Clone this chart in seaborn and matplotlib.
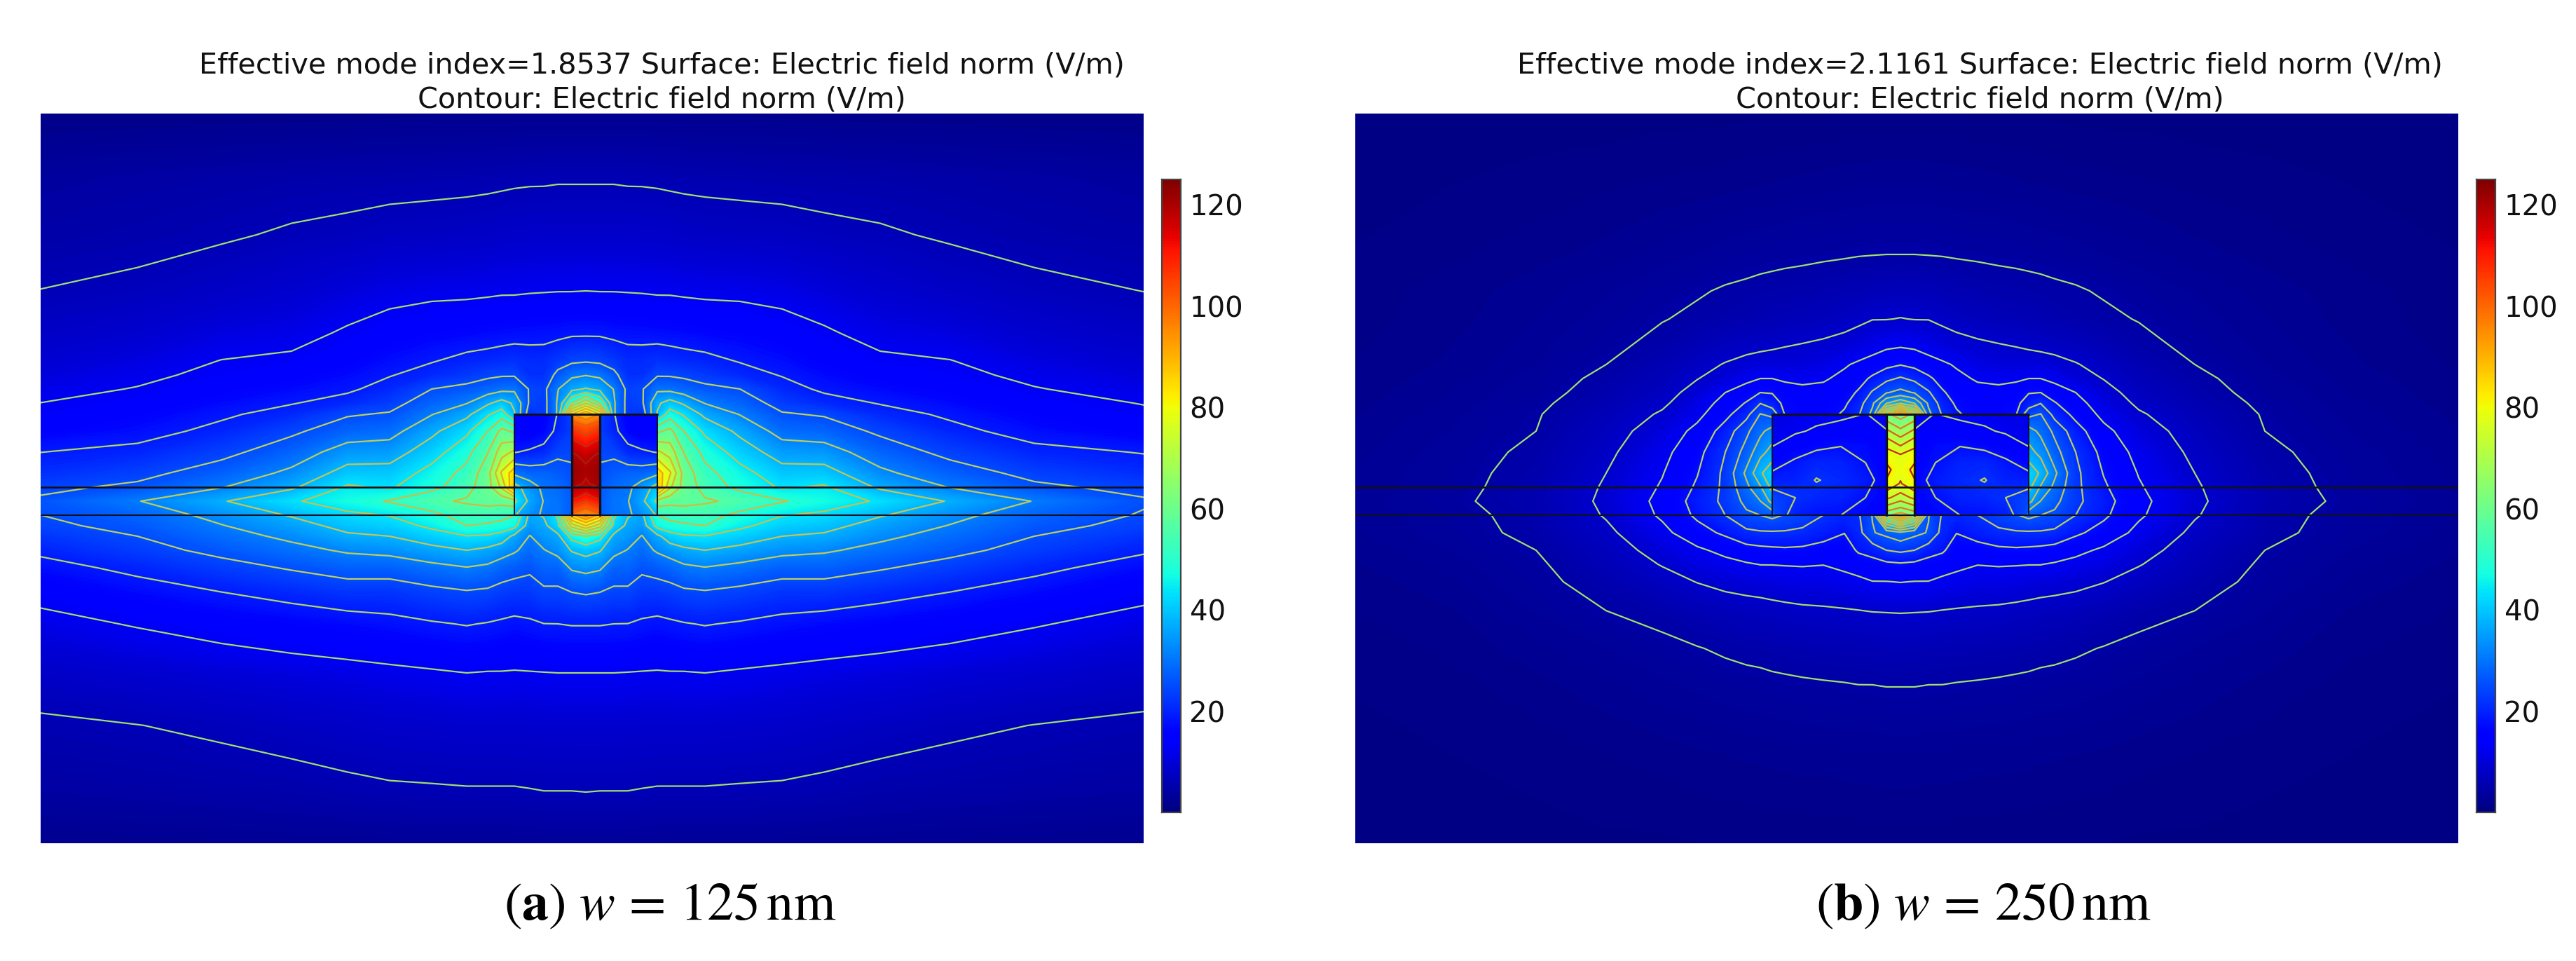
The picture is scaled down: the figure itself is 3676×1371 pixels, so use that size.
import numpy as np
import matplotlib
matplotlib.use("Agg")
import matplotlib.pyplot as plt
from matplotlib.colors import LinearSegmentedColormap
import seaborn as sns

N = np.nan

# field norm (V/m), half of each panel, mirrored about the slot
# x = distance from slot centre, y = height above the lower face of the layer
x_a = [0, 20, 40, 60, 80, 102, 120, 140, 170, 220, 280, 340, 420, 520, 640, 800]
y_a = [573, 480, 400, 320, 260, 220, 200, 180, 160, 144, 120, 90, 60, 40, 20, 0, -15, -30, -50, -75, -110, -155, -225, -300, -395, -468]
columns_a = [
    [2, 6, 8.5, 12.5, 18, 24.5, 31, 38, 62, 88, N, N, N, N, N, 96, 75, 50, 40, 33, 25.5, 19, 12.5, 9, 6.25, 3],
    [2, 6, 8.5, 12.4, 18, 24, 30, 36, 50, 75, N, N, N, N, N, 85, 65, 46, 38, 32, 25, 19, 12.5, 9, 6.2, 3],
    [2, 6, 8.5, 12.4, 17.5, 22.5, 26.5, 31, 32, 32, N, N, N, N, N, 45, 42, 36, 33, 28, 24, 18.75, 12.5, 9, 6.2, 3],
    [2, 5.9, 8.5, 12.3, 17.3, 20.8, 21.5, 23.5, 23, 23, N, N, N, N, N, 38, 36, 34, 31, 28, 24, 18.7, 12.4, 8.9, 6.2, 3],
    [2, 5.9, 8.4, 12.2, 17.2, 20.8, 21.5, 24.5, 24, 21, N, N, N, N, N, 36, 34, 31, 29, 26, 22.5, 18, 12.3, 8.8, 6.1, 2.9],
    [2, 5.8, 8.4, 12, 17, 21.5, 24.5, 30, 36.5, 38, 55, 70, 85, 88, 60, 50, 46, 36, 32, 27, 22.5, 17.5, 12.2, 8.8, 6, 2.9],
    [1.9, 5.7, 8.2, 12, 16.8, 21, 24.5, 29.5, 40, 47, 58, 66, 76, 70, 58, 52, 48, 41, 34, 28, 23, 18, 12.3, 8.8, 6, 2.8],
    [1.9, 5.6, 8, 11.8, 16.5, 20.5, 24, 28, 36.5, 43, 50, 56, 60, 60, 58, 53, 49, 43, 36, 30, 24, 18.5, 12.3, 8.8, 6, 2.8],
    [1.8, 5.5, 7.8, 11.6, 16, 20, 22.5, 26.5, 31, 36, 42.5, 48, 52, 54, 57, 53, 50, 43.5, 37.5, 31, 24.5, 19, 12.5, 8.8, 6, 2.8],
    [1.8, 5.4, 7.6, 11.5, 15.5, 18.5, 20.5, 25, 28, 31, 36, 41, 46, 48, 55, 48, 45, 41, 35.5, 29.5, 23.5, 18.3, 12, 8.6, 5.9, 2.8],
    [1.7, 5.2, 7.5, 11, 14.5, 17, 18.5, 20.5, 23, 25.5, 29, 34.5, 40, 43, 50.5, 44, 41, 37.5, 33, 27.5, 22, 17.3, 11.5, 8.4, 5.8, 2.7],
    [1.6, 5.1, 7, 10.2, 13, 15, 16.5, 18, 20.5, 24.5, 28, 34, 40, 44.5, 47, 42.5, 39.5, 36.5, 32, 27.5, 22, 16.5, 11, 8, 5.5, 2.6],
    [1.5, 4.9, 6.6, 9, 11.2, 13.2, 14.8, 16.5, 18.5, 20.5, 24, 28, 32.5, 36.5, 43, 38, 35, 32.5, 29.5, 25.5, 20.5, 15.5, 10.5, 7.5, 5, 2.5],
    [1.4, 4.6, 5.9, 8, 10.5, 12.6, 13.5, 15, 16.5, 18, 20, 23.5, 27.5, 31, 37, 33, 31, 29, 26.5, 23, 18.7, 14.3, 9.8, 6.8, 4.7, 2.3],
    [1.3, 4.2, 5.2, 7, 9, 10.6, 11.6, 12.7, 14, 15.3, 17, 20, 23.5, 26, 31, 28, 26.5, 25, 23, 20, 16.5, 12.8, 9, 6.2, 4.3, 2.1],
    [1.2, 3.6, 4.6, 6.2, 7.8, 9.2, 10, 11, 12.3, 13.2, 14.8, 18.5, 21, 23.5, 25.5, 24.5, 23.5, 21.5, 19.3, 16.5, 13.5, 11, 8, 5.6, 3.9, 1.9],
]
rib_x_a = [20, 40, 60, 80, 102]
rib_y_a = [144, 120, 90, 60, 40, 20, 0]
rib_a = [
    [24, 19, 15, 13, 14],
    [23, 20, 16, 14, 15],
    [24.5, 24, 20.5, 19.5, 18.5],
    [25.5, 27, 28, 28, 30],
    [26.5, 29, 30, 34, 40],
    [27, 30, 31, 36, 45],
    [27, 30, 30.5, 33, 38],
]
slot_y = [144, 125, 105, 85, 65, 45, 25, 10, 0]
slot_x = [0, 20]
slot_a = [
    [88, 94], [102, 106], [110, 114], [117, 120], [120, 122],
    [118, 121], [110, 114], [100, 105], [92, 98],
]

x_b = [0, 20, 40, 60, 80, 110, 140, 165, 183, 200, 220, 250, 290, 340, 420, 520, 640, 800]
y_b = [573, 470, 372, 320, 280, 240, 215, 195, 175, 160, 144, 120, 90, 60, 40, 20, 0, -25, -50, -70, -95, -140, -190, -245, -340, -468]
rows_b = [
    [1, 1, 1, 1, 1, .9, .9, .9, .9, .9, .9, .8, .8, .8, .7, .7, .6, .6],
    [2.5, 2.5, 2.5, 2.4, 2.4, 2.3, 2.2, 2.1, 2, 2, 1.9, 1.8, 1.7, 1.6, 1.4, 1.2, 1, .8],
    [4.3, 4.3, 4.25, 4.2, 4.1, 4, 3.9, 3.8, 3.7, 3.6, 3.5, 3.3, 3, 2.7, 2.2, 1.8, 1.4, 1],
    [6.6, 6.5, 6.3, 6, 5.8, 5.5, 5.2, 5.1, 5, 4.9, 4.7, 4.5, 4.1, 3.6, 2.9, 2.3, 1.7, 1.2],
    [8.7, 8.5, 8.5, 7.9, 7.4, 6.9, 6.5, 6.2, 6, 5.8, 5.5, 5.1, 4.7, 4.2, 3.3, 2.5, 1.8, 1.2],
    [12.8, 12.4, 11.5, 10.6, 9.9, 9.3, 8.9, 8.6, 8.3, 8, 7.7, 7.2, 6.2, 5, 3.8, 2.8, 2, 1.3],
    [17, 16, 14.5, 13.5, 12.5, 10.8, 10.2, 10, 10.2, 10.2, 9.7, 8.8, 7.5, 5.8, 4.3, 3, 2.1, 1.4],
    [22, 20.5, 18, 15.5, 13.8, 12.5, 12, 12.2, 12.9, 12.9, 11.8, 10, 8.5, 6.5, 4.8, 3.3, 2.3, 1.5],
    [27, 25.5, 22, 17.7, 15.5, 14, 14, 15, 17, 17.2, 15, 12.9, 9.8, 7.3, 5.3, 3.5, 2.5, 1.6],
    [38, 34, 25, 19.5, 16.5, 15, 15, 16.3, 19, 21.3, 17.5, 14.3, 10.8, 8, 5.8, 3.8, 2.6, 1.7],
    [64, 52, 27, 21, 17.8, 15.5, 15.5, 17, 24.5, 26, 20, 16, 11.8, 9, 6.4, 4.1, 2.8, 1.8],
    [N, N, N, N, N, N, N, N, 32, 29, 24.8, 19, 14, 10.3, 7.1, 4.3, 3, 2],
    [N, N, N, N, N, N, N, N, 36, 33, 27.5, 21.5, 15.8, 11.7, 7.8, 4.8, 3.3, 2.2],
    [N, N, N, N, N, N, N, N, 42, 38, 31, 22.5, 17, 12.7, 8.6, 5.2, 3.5, 2.3],
    [N, N, N, N, N, N, N, N, 40, 34, 29, 22.5, 17.8, 13.3, 9, 5.4, 3.6, 2.4],
    [N, N, N, N, N, N, N, N, 36, 30, 27, 22.5, 18.8, 14, 9.3, 5.6, 3.8, 2.5],
    [64, 52, 26, 21, 20, 21.5, 24, 25.5, 27, 25.8, 25, 21.5, 18, 13.5, 8.9, 5.2, 3.5, 2.4],
    [29, 27, 25.5, 20, 17.3, 19, 20.5, 21, 21, 21, 20.5, 18, 15.5, 11.8, 7.8, 4.9, 3.4, 2.2],
    [22.3, 21.5, 19, 17.8, 15, 15.5, 16.3, 16.5, 16.3, 16, 15.5, 14, 12.2, 10, 6.8, 4.3, 3, 2],
    [16.7, 16.3, 15.5, 14.8, 13.7, 13, 13.2, 13.1, 13, 13, 12.5, 11.7, 10.7, 8.8, 6.2, 3.9, 2.7, 1.8],
    [13, 12.8, 12.8, 12, 11.8, 11, 11, 10.8, 10.5, 10.2, 10, 9.6, 8.7, 7.3, 5.4, 3.6, 2.4, 1.6],
    [8.6, 8.5, 8.4, 8.2, 8, 7.9, 7.7, 7.4, 7.2, 7, 6.8, 6.4, 5.8, 5, 4.2, 3, 1.9, 1.4],
    [6.2, 6.1, 6, 5.9, 5.8, 5.7, 5.5, 5.3, 5.2, 5, 4.9, 4.6, 4.2, 3.7, 3, 2.3, 1.6, 1.2],
    [4.3, 4.3, 4.2, 4.2, 4.1, 4, 3.9, 3.8, 3.7, 3.6, 3.5, 3.4, 3.1, 2.8, 2.3, 1.8, 1.3, 1],
    [2.5, 2.5, 2.4, 2.4, 2.4, 2.3, 2.3, 2.2, 2.2, 2.1, 2.1, 2, 1.9, 1.7, 1.5, 1.2, 1, .8],
    [1.2, 1.2, 1.2, 1.2, 1.1, 1.1, 1.1, 1.1, 1.1, 1.1, 1, 1, 1, .9, .9, .8, .7, .6],
]
rib_x_b = [20, 50, 85, 120, 150, 183]
rib_y_b = [144, 120, 100, 75, 50, 25, 0]
rib_b = [
    [12, 13, 12, 12, 11, 11],
    [13, 14.5, 14.5, 13.3, 12.5, 11.5],
    [14, 16.5, 17, 16, 14.5, 12.7],
    [15, 17.2, 19.5, 20, 18, 15.5],
    [15.5, 18.5, 20.5, 21.7, 19.5, 19],
    [15.5, 17.2, 19.5, 20, 21.5, 24],
    [15, 16, 17.2, 17.5, 19, 26],
]
slot_b = [
    [58, 61], [64, 68], [71, 75], [78, 80], [79, 83],
    [77, 81], [71, 74], [64, 67], [58, 61],
]

cbar_ticks = [20, 40, 60, 80, 100, 120]
cbar_max = 125
level_step_a = 125 / 20
level_step_b = 86 / 20
titles_a = "Effective mode index=1.8537 Surface: Electric field norm (V/m)\nContour: Electric field norm (V/m)"
titles_b = "Effective mode index=2.1161 Surface: Electric field norm (V/m)\nContour: Electric field norm (V/m)"
caption_a = r"$(\mathbf{a})\ w\,=\,125\,\mathrm{nm}$"
caption_b = r"$(\mathbf{b})\ w\,=\,250\,\mathrm{nm}$"

W, H = 3676, 1371
sns.set_theme(style="white")
plt.rcParams["font.family"] = ["DejaVu Sans"]
plt.rcParams["mathtext.fontset"] = "stix"

line_cmap = LinearSegmentedColormap.from_list(
    "lines", ["#a0e070", "#bcd060", "#c4c050", "#e0b828", "#f09c1c", "#e04a14", "#8c0a0a"])
fine_levels = np.linspace(0, cbar_max, 251)


def box(x0, y0, x1, y1):
    return [x0 / W, 1 - y1 / H, (x1 - x0) / W, (y1 - y0) / H]


def region(ax, x, y, z, levels, colors):
    x, y, z = np.array(x), np.array(y), np.array(z, dtype=float)
    order = np.argsort(y)
    y, z = y[order], z[order]
    ax.contourf(x, y, z, levels=fine_levels, cmap="jet", extend="both", antialiased=False, corner_mask=False)
    ax.contour(x, y, z, levels=levels, colors=colors, linewidths=1.6, corner_mask=False)


def mirror(x, z):
    z = np.array(z, dtype=float)
    return np.r_[-np.array(x)[:0:-1], x], np.hstack([z[:, :0:-1], z])


def panel(left, x, y, z, rib_x, rib_y, rib, slot, step, title, caption, title_x, caption_x):
    ax = fig.add_axes(box(left, 162, left + 1574, 1203))
    levels = np.arange(1, 21) * step
    colors = [line_cmap(i / 19) for i in range(20)]
    xm, zm = mirror(x, z)
    region(ax, xm, y, zm, levels, colors)
    for sign in (-1, 1):
        xs = np.array(rib_x) * sign
        zs = np.array(rib)
        if sign < 0:
            xs, zs = xs[::-1], zs[:, ::-1]
        region(ax, xs, rib_y, zs, levels, colors)
    xm, zm = mirror(slot_x, slot)
    region(ax, xm, slot_y, zm, levels, colors)

    # structure outlines
    edge = rib_x[-1]
    ax.plot([-edge, edge], [144, 144], color="#101020", lw=2.2)
    ax.plot([-edge, -edge, edge, edge], [0, 144, 144, 0], color="#101020", lw=1.4)
    for s in (-20, 20):
        ax.plot([s, s], [0, 144], color="#101020", lw=2.4)
    ax.plot([-800, 800], [40, 40], color="#101020", lw=1.9)
    ax.plot([-800, 800], [0, 0], color="#101020", lw=1.5)

    ax.set_xlim(-778, 796)
    ax.set_ylim(-468, 573)
    ax.set_xticks([])
    ax.set_yticks([])
    for sp in ax.spines.values():
        sp.set_visible(False)

    # colour bar
    cax = fig.add_axes(box(left + 1600, 256, left + 1627, 1159))
    strip = np.linspace(cbar_max, 0, 500)[:, None]
    sns.heatmap(strip, ax=cax, cmap="jet", vmin=0, vmax=cbar_max, cbar=False,
                xticklabels=False, yticklabels=False)
    cax.yaxis.tick_right()
    cax.set_yticks([(cbar_max - t) / cbar_max * 500 for t in cbar_ticks])
    cax.set_yticklabels(cbar_ticks)
    cax.tick_params(axis="y", direction="in", left=True, right=True, length=5, width=1.4,
                    color="#222222", labelsize=29, labelcolor="#111111", pad=9)
    for sp in cax.spines.values():
        sp.set_visible(True)
        sp.set_color("#444444")
        sp.set_linewidth(1.6)

    fig.text(title_x / W, 1 - 118 / H, title, ha="center", va="center", fontsize=29.8,
             color="#111111", linespacing=1.3)
    fig.text(caption_x / W, 1 - 1312 / H, caption, ha="center", va="baseline", fontsize=55, color="black")


fig = plt.figure(figsize=(W / 100, H / 100), dpi=100, facecolor="white")
panel(58, x_a, y_a, np.array(columns_a).T, rib_x_a, rib_y_a, rib_a, slot_a, level_step_a,
      titles_a, caption_a, 944, 956)
panel(1934, x_b, y_b, rows_b, rib_x_b, rib_y_b, rib_b, slot_b, level_step_b,
      titles_b, caption_b, 2825, 2830)
fig.savefig("out.png", dpi=100)
